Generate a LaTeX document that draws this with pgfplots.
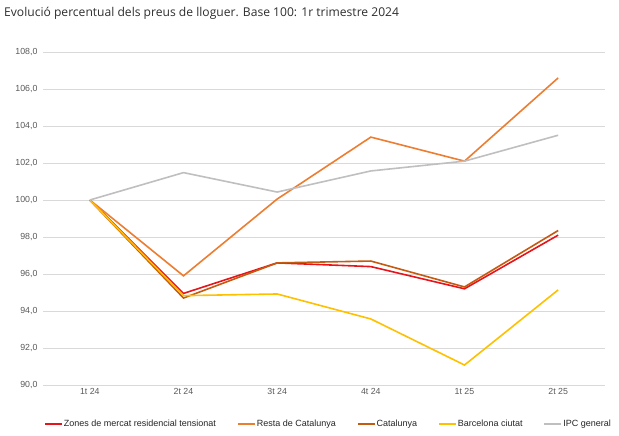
\documentclass[border=0pt]{standalone}
\usepackage{fontspec}
\setmainfont{Liberation Sans}
\newfontfamily\titlefont{Open Sans}
\usepackage{pgfplots}
\pgfplotsset{compat=1.18}

\definecolor{zones}{HTML}{E8141B}
\definecolor{resta}{HTML}{ED7D31}
\definecolor{catal}{HTML}{C55A11}
\definecolor{bcn}{HTML}{FFC000}
\definecolor{ipc}{HTML}{BFBFBF}
\definecolor{gridc}{HTML}{D9D9D9}
\definecolor{txt}{HTML}{595959}

\begin{document}
\begin{tikzpicture}
\useasboundingbox (-43pt,-51pt) rectangle (576pt,385pt);
\node[anchor=west, inner sep=0pt, font=\titlefont\fontsize{12.1}{14}\selectfont, text=black!82] at (-39pt,372pt)
  {Evolució percentual dels preus de lloguer. Base 100: 1r trimestre 2024};
\begin{axis}[
    scale only axis,
    width=562pt, height=333pt,
    xmin=-0.5, xmax=5.5,
    ymin=90, ymax=108,
    xtick={0,1,2,3,4,5},
    xticklabels={1t 24,2t 24,3t 24,4t 24,1t 25,2t 25},
    ytick={90,92,...,108},
    ymajorgrids=true,
    grid style={gridc, line width=0.8pt},
    axis line style={draw=none},
    major tick length=0pt,
    tick label style={font=\fontsize{8.8}{10}\selectfont, text=txt},
    yticklabel style={xshift=-2pt},
    /pgf/number format/assume math mode=true,
    yticklabel style={/pgf/number format/.cd, fixed, fixed zerofill, precision=1, use comma},
    legend columns=5,
    legend style={at={(0.5,-39pt)}, xshift=4pt, anchor=center, draw=none, inner sep=0pt,
        font=\fontsize{9}{10}\selectfont, text=black!85,
        nodes={inner xsep=1pt},
        /tikz/every odd column/.append style={column sep=0pt},
        /tikz/every even column/.append style={column sep=20pt}},
    legend image code/.code={\draw[#1, line width=1.8pt] (0pt,0pt) -- (17pt,0pt);},
    every axis plot/.append style={line width=1.6pt},
]
\addplot[zones] coordinates {(0,100.0)(1,94.95)(2,96.6)(3,96.4)(4,95.2)(5,98.1)};
\addlegendentry{Zones de mercat residencial tensionat}
\addplot[resta] coordinates {(0,100.0)(1,95.9)(2,100.05)(3,103.4)(4,102.1)(5,106.6)};
\addlegendentry{Resta de Catalunya}
\addplot[catal] coordinates {(0,100.0)(1,94.7)(2,96.6)(3,96.7)(4,95.3)(5,98.35)};
\addlegendentry{Catalunya}
\addplot[bcn] coordinates {(0,100.0)(1,94.83)(2,94.92)(3,93.57)(4,91.08)(5,95.14)};
\addlegendentry{Barcelona ciutat}
\addplot[ipc] coordinates {(0,100.0)(1,101.48)(2,100.43)(3,101.57)(4,102.1)(5,103.5)};
\addlegendentry{IPC general}
\end{axis}
\end{tikzpicture}
\end{document}
